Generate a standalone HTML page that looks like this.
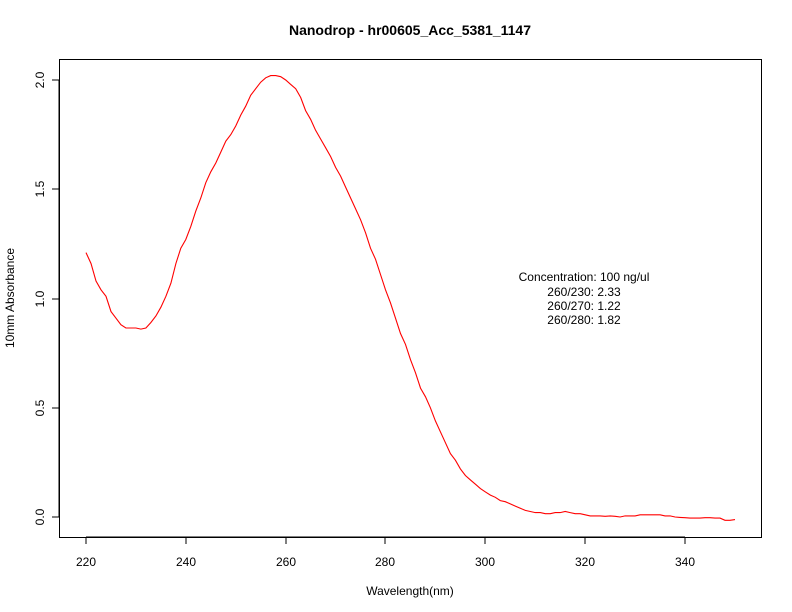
<!DOCTYPE html>
<html><head><meta charset="utf-8"><style>body{margin:0;background:#fff}svg{display:block}text{font-family:"Liberation Sans",sans-serif;font-size:12px;fill:#000}</style></head>
<body>
<svg id="s" width="792" height="612" viewBox="0 0 792 612" xmlns="http://www.w3.org/2000/svg">
<rect x="0" y="0" width="792" height="612" fill="#fff"/>
<rect x="59.5" y="59.5" width="702" height="478" fill="none" stroke="#000"/>
<text x="410" y="35" text-anchor="middle" style="font-weight:bold;font-size:14px">Nanodrop - hr00605_Acc_5381_1147</text>
<text x="410" y="595" text-anchor="middle">Wavelength(nm)</text>
<text transform="translate(14,298) rotate(-90)" text-anchor="middle">10mm Absorbance</text>
<g stroke="#000">
<line x1="86" y1="537" x2="685" y2="537"/>
<line x1="86" y1="537" x2="86" y2="544"/><line x1="186" y1="537" x2="186" y2="544"/><line x1="286" y1="537" x2="286" y2="544"/><line x1="385" y1="537" x2="385" y2="544"/><line x1="485" y1="537" x2="485" y2="544"/><line x1="585" y1="537" x2="585" y2="544"/><line x1="685" y1="537" x2="685" y2="544"/>
<line x1="59" y1="80" x2="59" y2="517"/>
<line x1="52" y1="517" x2="59" y2="517"/><line x1="52" y1="408" x2="59" y2="408"/><line x1="52" y1="299" x2="59" y2="299"/><line x1="52" y1="189" x2="59" y2="189"/><line x1="52" y1="80" x2="59" y2="80"/>
</g>
<g text-anchor="middle">
<text x="86" y="566">220</text><text x="186" y="566">240</text><text x="286" y="566">260</text><text x="385" y="566">280</text><text x="485" y="566">300</text><text x="585" y="566">320</text><text x="685" y="566">340</text>
<text transform="translate(44,517) rotate(-90)">0.0</text>
<text transform="translate(44,408) rotate(-90)">0.5</text>
<text transform="translate(44,299) rotate(-90)">1.0</text>
<text transform="translate(44,189) rotate(-90)">1.5</text>
<text transform="translate(44,80) rotate(-90)">2.0</text>
<text x="584" y="281">Concentration: 100 ng/ul</text>
<text x="584" y="296">260/230: 2.33</text>
<text x="584" y="310">260/270: 1.22</text>
<text x="584" y="324">260/280: 1.82</text>
</g>
<polyline id="c" fill="none" stroke="#ff0000" stroke-width="1.1"/>
</svg>
<script>
var v=[1.21,1.16,1.08,1.04,1.01,0.94,0.91,0.88,0.865,0.865,0.865,0.86,0.865,0.89,0.92,0.96,1.01,1.07,1.16,1.23,1.27,1.33,1.40,1.46,1.53,1.58,1.62,1.67,1.72,1.75,1.79,1.84,1.88,1.93,1.96,1.99,2.01,2.02,2.02,2.015,2.0,1.98,1.96,1.92,1.86,1.82,1.77,1.73,1.69,1.65,1.60,1.56,1.51,1.46,1.41,1.36,1.30,1.23,1.18,1.11,1.04,0.98,0.91,0.84,0.79,0.72,0.66,0.59,0.55,0.50,0.44,0.39,0.34,0.29,0.26,0.22,0.19,0.17,0.15,0.13,0.115,0.10,0.09,0.075,0.07,0.06,0.05,0.04,0.03,0.025,0.02,0.02,0.015,0.015,0.02,0.02,0.025,0.02,0.015,0.015,0.01,0.005,0.005,0.005,0.003,0.005,0.003,0.0,0.005,0.005,0.005,0.01,0.01,0.01,0.01,0.01,0.005,0.005,0.0,-0.002,-0.003,-0.005,-0.005,-0.005,-0.003,-0.003,-0.005,-0.005,-0.015,-0.015,-0.012];
var p=[];for(var i=0;i<v.length;i++){p.push((86+i*4.992).toFixed(1)+","+(517-v[i]*218.5).toFixed(1));}
document.getElementById("c").setAttribute("points",p.join(" "));
</script>
</body></html>
